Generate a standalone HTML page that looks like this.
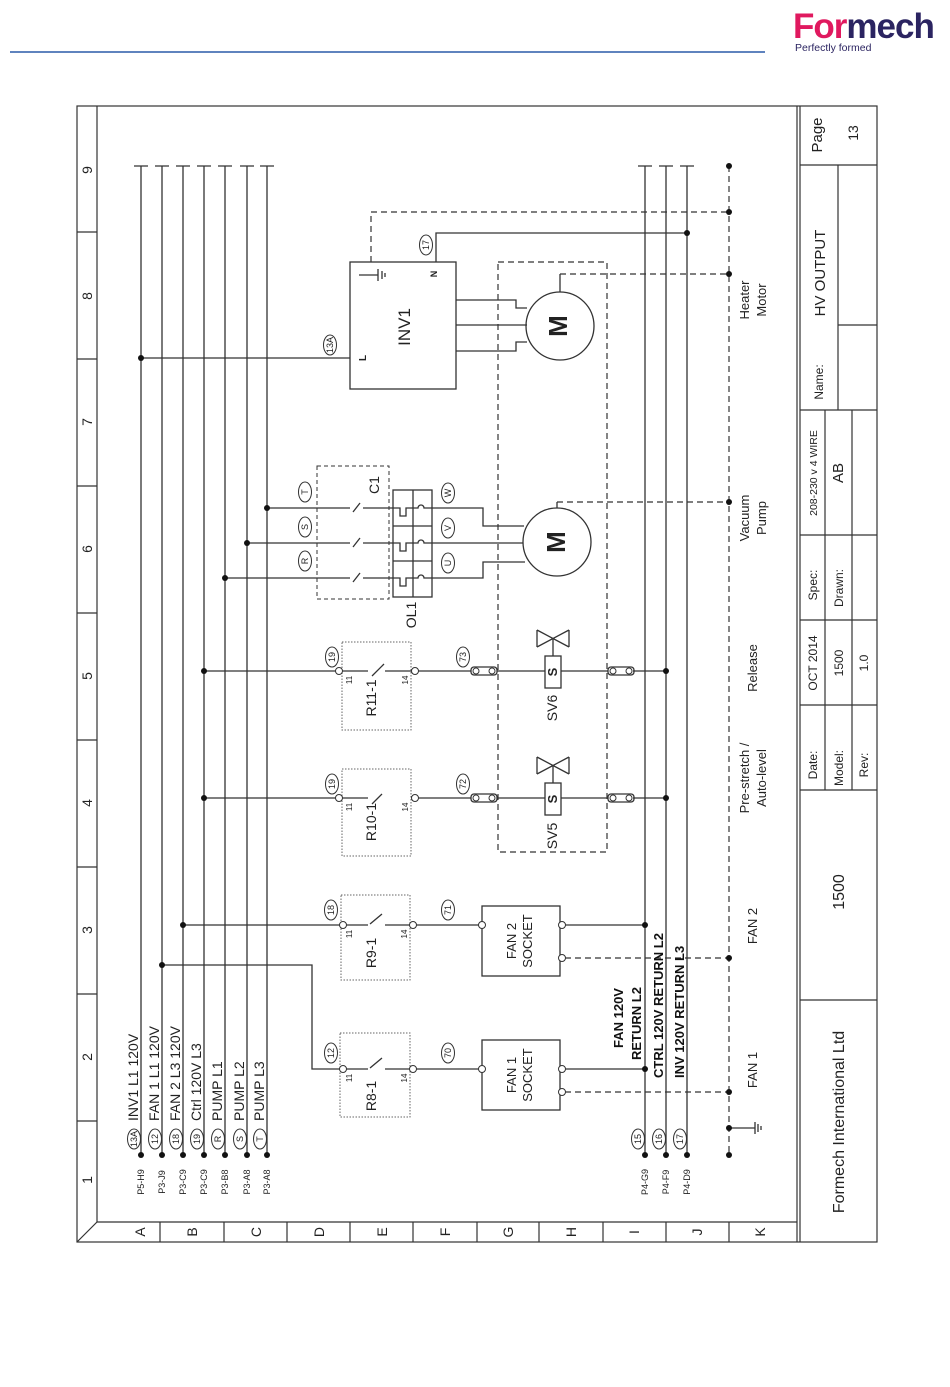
<!DOCTYPE html>
<html><head><meta charset="utf-8"><style>
html,body{margin:0;padding:0;background:#fff;}
svg{display:block;font-family:"Liberation Sans",sans-serif;}
</style></head><body>
<svg width="950" height="1387" viewBox="0 0 950 1387" xmlns="http://www.w3.org/2000/svg">
<line x1="10" y1="52" x2="765" y2="52" stroke="#2a5aa8" stroke-width="1.5"/>
<text x="793" y="38" font-size="35" font-weight="bold" fill="#2b2461" letter-spacing="-1"><tspan fill="#e0195f">For</tspan>mech</text>
<text x="795" y="51" font-size="10.5" fill="#2b2461">Perfectly formed</text>

<g stroke="#333" fill="none" stroke-width="1.2">
<rect x="77" y="106" width="800" height="1136"/>
<line x1="97" y1="106" x2="97" y2="1222"/>
<line x1="97" y1="1222" x2="797" y2="1222"/>
<line x1="77" y1="1242" x2="97" y2="1222"/>
<line x1="797" y1="106" x2="797" y2="1242"/>
<line x1="800" y1="106" x2="800" y2="1242"/>
<path d="M77 232H97M77 359H97M77 486H97M77 613H97M77 740H97M77 867H97M77 994H97M77 1121H97"/>
<path d="M160 1222V1242M224 1222V1242M287 1222V1242M350 1222V1242M413 1222V1242M477 1222V1242M539 1222V1242M603 1222V1242M666 1222V1242M729 1222V1242"/>
<path d="M800 165H877M838 165V410M838 325H877M800 410H877M825 410V790M852 410V790M800 535H877M800 620H877M800 705H877M800 790H877M800 1000H877"/>
</g>
<g font-size="14" fill="#222" text-anchor="middle">
<text transform="translate(92,170) rotate(-90)">9</text>
<text transform="translate(92,296) rotate(-90)">8</text>
<text transform="translate(92,422) rotate(-90)">7</text>
<text transform="translate(92,549) rotate(-90)">6</text>
<text transform="translate(92,676) rotate(-90)">5</text>
<text transform="translate(92,803) rotate(-90)">4</text>
<text transform="translate(92,930) rotate(-90)">3</text>
<text transform="translate(92,1057) rotate(-90)">2</text>
<text transform="translate(92,1180) rotate(-90)">1</text>
<text transform="translate(145,1232) rotate(-90)">A</text>
<text transform="translate(197,1232) rotate(-90)">B</text>
<text transform="translate(261,1232) rotate(-90)">C</text>
<text transform="translate(324,1232) rotate(-90)">D</text>
<text transform="translate(387,1232) rotate(-90)">E</text>
<text transform="translate(450,1232) rotate(-90)">F</text>
<text transform="translate(513,1232) rotate(-90)">G</text>
<text transform="translate(576,1232) rotate(-90)">H</text>
<text transform="translate(639,1232) rotate(-90)">I</text>
<text transform="translate(702,1232) rotate(-90)">J</text>
<text transform="translate(765,1232) rotate(-90)">K</text>
</g>
<g fill="#222" text-anchor="middle">
<text transform="translate(822,135) rotate(-90)" font-size="15">Page</text>
<text transform="translate(858,133) rotate(-90)" font-size="14">13</text>
<text transform="translate(825,273) rotate(-90)" font-size="15">HV OUTPUT</text>
<text transform="translate(823,382) rotate(-90)" font-size="12">Name:</text>
<text transform="translate(817,473) rotate(-90)" font-size="10.5">208-230 v 4 WIRE</text>
<text transform="translate(843,473) rotate(-90)" font-size="15">AB</text>
<text transform="translate(817,585) rotate(-90)" font-size="12">Spec:</text>
<text transform="translate(843,588) rotate(-90)" font-size="12">Drawn:</text>
<text transform="translate(817,663) rotate(-90)" font-size="12">OCT 2014</text>
<text transform="translate(843,663) rotate(-90)" font-size="12">1500</text>
<text transform="translate(868,663) rotate(-90)" font-size="12">1.0</text>
<text transform="translate(817,765) rotate(-90)" font-size="12">Date:</text>
<text transform="translate(843,768) rotate(-90)" font-size="12">Model:</text>
<text transform="translate(868,765) rotate(-90)" font-size="12">Rev:</text>
<text transform="translate(844,892) rotate(-90)" font-size="16">1500</text>
<text transform="translate(844,1122) rotate(-90)" font-size="16">Formech International Ltd</text>
</g>

<g stroke="#333" fill="none" stroke-width="1.3">
<path d="M141 166V1155M162 166V1155M183 166V1155M204 166V1155M225 166V1155M247 166V1155M267 166V1155"/>
<path d="M134 166H148M155 166H169M176 166H190M197 166H211M218 166H232M240 166H254M260 166H274"/>
<path d="M645 166V1155M666 166V1155M687 166V1155"/>
<path d="M638 166H652M659 166H673M680 166H694"/>
<path d="M141 358H350"/>
<rect x="350" y="262" width="106" height="127"/>
<path d="M436 262V233H687"/>
<path d="M456 300H516V308H527M456 325H527M456 351H516V342H527"/>
<circle cx="560" cy="326" r="34"/>
<path d="M560 292V274"/>
<path d="M359 275H378M378 269V281M382 271V279M385 273V277"/>
<path d="M267 508H350M360 503L353 512M363 508H393"/>
<path d="M247 543H350M360 538L353 547M363 543H393"/>
<path d="M225 578H350M360 573L353 582M363 578H393"/>
<rect x="393" y="490" width="39" height="107"/>
<path d="M413 490V597M393 526H432M393 561H432"/>
<path d="M393 508H400V516H406V508H413M413 508H418A3 3 0 0 1 424 508H483V526H524"/>
<path d="M393 543H400V551H406V543H413M413 543H418A3 3 0 0 1 424 543H523"/>
<path d="M393 578H400V586H406V578H413M413 578H418A3 3 0 0 1 424 578H483V562H525"/>
<circle cx="557" cy="542" r="34"/>
<path d="M557 508V502"/>
<path d="M162 965H312V1069H340"/>
<path d="M346 1069H368M370 1068L382 1058M385 1069H410M416 1069H479"/>
<rect x="482" y="1040" width="78" height="70"/>
<path d="M565 1069H645"/>
<path d="M183 925H340"/>
<path d="M346 925H368M370 924L382 914M385 925H410M416 925H479"/>
<rect x="482" y="906" width="78" height="70"/>
<path d="M565 925H645"/>
<path d="M204 798H336M342 798H368M372 804L382 794M418 798H471M497 798H545M561 798H608M633 798H666"/>
<path d="M204 671H336M342 671H368M372 676L384 664M385 671H412M418 671H471M497 671H545M561 671H608M633 671H666"/>
<rect x="545" y="656" width="16" height="32"/>
<rect x="545" y="783" width="16" height="32"/>
<path d="M553 656V639M537 630L569 647M537 647L569 630M537 630V647M569 630V647"/>
<path d="M553 783V766M537 757L569 774M537 774L569 757M537 757V774M569 757V774"/>
<rect x="471" y="667" width="26" height="8" rx="3"/>
<rect x="608" y="667" width="26" height="8" rx="3"/>
<rect x="471" y="794" width="26" height="8" rx="3"/>
<rect x="608" y="794" width="26" height="8" rx="3"/>
<path d="M729 1128H755M755 1122V1134M758 1124V1132M761 1126V1130"/>
</g>
<g stroke="#666" fill="none" stroke-width="1" stroke-dasharray="1.5 1.5">
<rect x="342" y="642" width="69" height="88"/>
<rect x="342" y="769" width="69" height="87"/>
<rect x="341" y="895" width="69" height="85"/>
<rect x="340" y="1033" width="70" height="84"/>
</g>
<g stroke="#333" fill="none" stroke-width="1.2" stroke-dasharray="6 4">
<path d="M729 166V1155"/>
<path d="M371 262V212H729"/>
<path d="M560 274H729"/>
<path d="M557 502H729"/>
<rect x="498" y="262" width="109" height="590"/>
<rect x="317" y="466" width="72" height="133" stroke-width="1" stroke-dasharray="4 3"/>
<path d="M565 958H729M565 1092H729"/>
</g>
<g stroke="#333" fill="#fff" stroke-width="1">
<circle cx="339" cy="671" r="3.5"/><circle cx="415" cy="671" r="3.5"/>
<circle cx="339" cy="798" r="3.5"/><circle cx="415" cy="798" r="3.5"/>
<circle cx="343" cy="925" r="3.5"/><circle cx="413" cy="925" r="3.5"/>
<circle cx="343" cy="1069" r="3.5"/><circle cx="413" cy="1069" r="3.5"/>
<circle cx="482" cy="925" r="3.5"/><circle cx="562" cy="925" r="3.5"/><circle cx="562" cy="958" r="3.5"/>
<circle cx="482" cy="1069" r="3.5"/><circle cx="562" cy="1069" r="3.5"/><circle cx="562" cy="1092" r="3.5"/>
<circle cx="476" cy="671" r="3"/><circle cx="492" cy="671" r="3"/><circle cx="613" cy="671" r="3"/><circle cx="629" cy="671" r="3"/>
<circle cx="476" cy="798" r="3"/><circle cx="492" cy="798" r="3"/><circle cx="613" cy="798" r="3"/><circle cx="629" cy="798" r="3"/>
</g>
<g fill="#111">
<circle cx="141" cy="358" r="3"/><circle cx="162" cy="965" r="3"/><circle cx="183" cy="925" r="3"/>
<circle cx="204" cy="798" r="3"/><circle cx="204" cy="671" r="3"/>
<circle cx="225" cy="578" r="3"/><circle cx="247" cy="543" r="3"/><circle cx="267" cy="508" r="3"/>
<circle cx="687" cy="233" r="3"/><circle cx="729" cy="212" r="3"/><circle cx="729" cy="274" r="3"/><circle cx="729" cy="502" r="3"/><circle cx="729" cy="166" r="3"/>
<circle cx="645" cy="925" r="3"/><circle cx="645" cy="1069" r="3"/>
<circle cx="666" cy="798" r="3"/><circle cx="666" cy="671" r="3"/>
<circle cx="729" cy="958" r="3"/><circle cx="729" cy="1092" r="3"/><circle cx="729" cy="1128" r="3"/><circle cx="729" cy="1155" r="3"/>
<circle cx="141" cy="1155" r="3"/><circle cx="162" cy="1155" r="3"/><circle cx="183" cy="1155" r="3"/><circle cx="204" cy="1155" r="3"/><circle cx="225" cy="1155" r="3"/><circle cx="247" cy="1155" r="3"/><circle cx="267" cy="1155" r="3"/>
<circle cx="645" cy="1155" r="3"/><circle cx="666" cy="1155" r="3"/><circle cx="687" cy="1155" r="3"/>
</g>
<g stroke="#333" fill="#fff" stroke-width="1">
<ellipse cx="134" cy="1139" rx="6.5" ry="10"/><ellipse cx="155" cy="1139" rx="6.5" ry="10"/><ellipse cx="176" cy="1139" rx="6.5" ry="10"/><ellipse cx="197" cy="1139" rx="6.5" ry="10"/><ellipse cx="218" cy="1139" rx="6.5" ry="10"/><ellipse cx="240" cy="1139" rx="6.5" ry="10"/><ellipse cx="260" cy="1139" rx="6.5" ry="10"/>
<ellipse cx="638" cy="1139" rx="6.5" ry="10"/><ellipse cx="659" cy="1139" rx="6.5" ry="10"/><ellipse cx="680" cy="1139" rx="6.5" ry="10"/>
<ellipse cx="330" cy="345" rx="6.5" ry="10"/><ellipse cx="426" cy="245" rx="6.5" ry="10"/>
<ellipse cx="305" cy="492" rx="6.5" ry="10"/><ellipse cx="305" cy="527" rx="6.5" ry="10"/><ellipse cx="305" cy="561" rx="6.5" ry="10"/>
<ellipse cx="448" cy="493" rx="6.5" ry="10"/><ellipse cx="448" cy="528" rx="6.5" ry="10"/><ellipse cx="448" cy="563" rx="6.5" ry="10"/>
<ellipse cx="332" cy="657" rx="6.5" ry="10"/><ellipse cx="463" cy="657" rx="6.5" ry="10"/>
<ellipse cx="332" cy="784" rx="6.5" ry="10"/><ellipse cx="463" cy="784" rx="6.5" ry="10"/>
<ellipse cx="331" cy="910" rx="6.5" ry="10"/><ellipse cx="448" cy="910" rx="6.5" ry="10"/>
<ellipse cx="331" cy="1053" rx="6.5" ry="10"/><ellipse cx="448" cy="1053" rx="6.5" ry="10"/>
</g>
<g font-size="9" fill="#222" text-anchor="middle">
<text transform="translate(137,1139) rotate(-90)">13A</text>
<text transform="translate(158,1139) rotate(-90)">12</text>
<text transform="translate(179,1139) rotate(-90)">18</text>
<text transform="translate(200,1139) rotate(-90)">19</text>
<text transform="translate(221,1139) rotate(-90)">R</text>
<text transform="translate(243,1139) rotate(-90)">S</text>
<text transform="translate(263,1139) rotate(-90)">T</text>
<text transform="translate(641,1139) rotate(-90)">15</text>
<text transform="translate(662,1139) rotate(-90)">16</text>
<text transform="translate(683,1139) rotate(-90)">17</text>
<text transform="translate(333,345) rotate(-90)">13A</text>
<text transform="translate(429,245) rotate(-90)">17</text>
<text transform="translate(308,492) rotate(-90)">T</text>
<text transform="translate(308,527) rotate(-90)">S</text>
<text transform="translate(308,561) rotate(-90)">R</text>
<text transform="translate(451,493) rotate(-90)">W</text>
<text transform="translate(451,528) rotate(-90)">V</text>
<text transform="translate(451,563) rotate(-90)">U</text>
<text transform="translate(335,657) rotate(-90)">19</text>
<text transform="translate(466,657) rotate(-90)">73</text>
<text transform="translate(335,784) rotate(-90)">19</text>
<text transform="translate(466,784) rotate(-90)">72</text>
<text transform="translate(334,910) rotate(-90)">18</text>
<text transform="translate(451,910) rotate(-90)">71</text>
<text transform="translate(334,1053) rotate(-90)">12</text>
<text transform="translate(451,1053) rotate(-90)">70</text>
<text transform="translate(144,1182) rotate(-90)">P5-H9</text>
<text transform="translate(165,1182) rotate(-90)">P3-J9</text>
<text transform="translate(186,1182) rotate(-90)">P3-C9</text>
<text transform="translate(207,1182) rotate(-90)">P3-C9</text>
<text transform="translate(228,1182) rotate(-90)">P3-B8</text>
<text transform="translate(250,1182) rotate(-90)">P3-A8</text>
<text transform="translate(270,1182) rotate(-90)">P3-A8</text>
<text transform="translate(648,1182) rotate(-90)">P4-G9</text>
<text transform="translate(669,1182) rotate(-90)">P4-F9</text>
<text transform="translate(690,1182) rotate(-90)">P4-D9</text>
<text transform="translate(352,680) rotate(-90)" font-size="8">11</text>
<text transform="translate(408,680) rotate(-90)" font-size="8">14</text>
<text transform="translate(352,807) rotate(-90)" font-size="8">11</text>
<text transform="translate(408,807) rotate(-90)" font-size="8">14</text>
<text transform="translate(352,934) rotate(-90)" font-size="8">11</text>
<text transform="translate(407,934) rotate(-90)" font-size="8">14</text>
<text transform="translate(352,1078) rotate(-90)" font-size="8">11</text>
<text transform="translate(407,1078) rotate(-90)" font-size="8">14</text>
<text transform="translate(366,358) rotate(-90)" font-size="10" font-weight="bold">L</text>
<text transform="translate(437,274) rotate(-90)" font-size="9" font-weight="bold">N</text>
</g>
<g font-size="14" fill="#222">
<text transform="translate(138,1121) rotate(-90)">INV1 L1 120V</text>
<text transform="translate(159,1121) rotate(-90)">FAN 1 L1 120V</text>
<text transform="translate(180,1121) rotate(-90)">FAN 2 L3 120V</text>
<text transform="translate(201,1121) rotate(-90)">Ctrl 120V L3</text>
<text transform="translate(222,1121) rotate(-90)">PUMP L1</text>
<text transform="translate(244,1121) rotate(-90)">PUMP L2</text>
<text transform="translate(264,1121) rotate(-90)">PUMP L3</text>
</g>
<g font-size="13" font-weight="bold" fill="#111">
<text transform="translate(623,1048) rotate(-90)">FAN 120V</text>
<text transform="translate(641,1060) rotate(-90)">RETURN L2</text>
<text transform="translate(663,1078) rotate(-90)">CTRL 120V RETURN L2</text>
<text transform="translate(684,1078) rotate(-90)">INV 120V RETURN L3</text>
</g>
<g font-size="14" fill="#222" text-anchor="middle">
<text transform="translate(410,327) rotate(-90)" font-size="17">INV1</text>
<text transform="translate(567,326) rotate(-90)" font-size="26" font-weight="bold">M</text>
<text transform="translate(565,542) rotate(-90)" font-size="26" font-weight="bold">M</text>
<text transform="translate(379,485) rotate(-90)">C1</text>
<text transform="translate(416,615) rotate(-90)">OL1</text>
<text transform="translate(376,698) rotate(-90)">R11-1</text>
<text transform="translate(376,822) rotate(-90)">R10-1</text>
<text transform="translate(376,953) rotate(-90)">R9-1</text>
<text transform="translate(376,1096) rotate(-90)">R8-1</text>
<text transform="translate(557,708) rotate(-90)">SV6</text>
<text transform="translate(557,836) rotate(-90)">SV5</text>
<text transform="translate(557,672) rotate(-90)" font-size="13" font-weight="bold">S</text>
<text transform="translate(557,799) rotate(-90)" font-size="13" font-weight="bold">S</text>
<text transform="translate(516,941) rotate(-90)" font-size="13">FAN 2</text>
<text transform="translate(532,941) rotate(-90)" font-size="13">SOCKET</text>
<text transform="translate(516,1075) rotate(-90)" font-size="13">FAN 1</text>
<text transform="translate(532,1075) rotate(-90)" font-size="13">SOCKET</text>
<text transform="translate(757,1070) rotate(-90)" font-size="13">FAN 1</text>
<text transform="translate(757,926) rotate(-90)" font-size="13">FAN 2</text>
<text transform="translate(749,778) rotate(-90)" font-size="13">Pre-stretch  /</text>
<text transform="translate(766,778) rotate(-90)" font-size="13">Auto-level</text>
<text transform="translate(757,668) rotate(-90)" font-size="13">Release</text>
<text transform="translate(749,518) rotate(-90)" font-size="13">Vacuum</text>
<text transform="translate(766,518) rotate(-90)" font-size="13">Pump</text>
<text transform="translate(749,300) rotate(-90)" font-size="13">Heater</text>
<text transform="translate(766,300) rotate(-90)" font-size="13">Motor</text>
</g>
</svg>
</body></html>
